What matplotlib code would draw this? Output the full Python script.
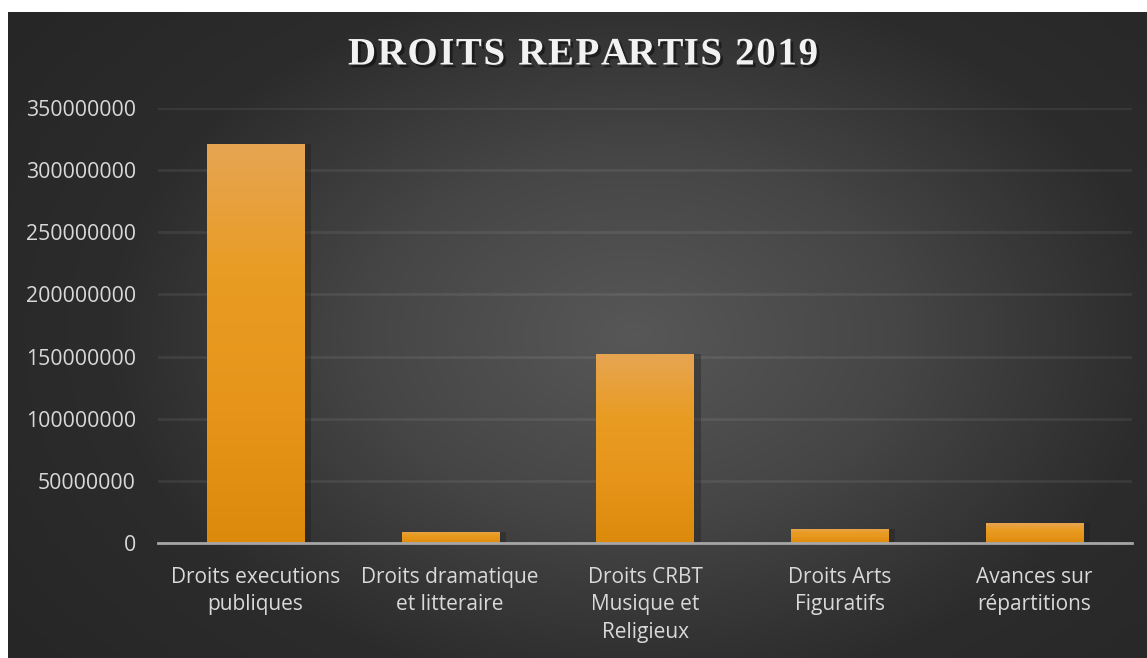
import numpy as np
import matplotlib
matplotlib.use("Agg")
import matplotlib.pyplot as plt
import matplotlib.patheffects as pe
from matplotlib.colors import LinearSegmentedColormap

categories = ["Droits executions\npubliques", "Droits dramatique\net litteraire",
              "Droits CRBT\nMusique et\nReligieux", "Droits Arts\nFiguratifs",
              "Avances sur\nrépartitions"]
values = [321000000, 9000000, 152000000, 11500000, 16000000]
yticks = [0, 50000000, 100000000, 150000000, 200000000, 250000000, 300000000, 350000000]
title = "DROITS REPARTIS 2019"

W, H = 1147, 658
fig = plt.figure(figsize=(W / 100, H / 100), dpi=100, facecolor="white")

# background radial gradient
bg = fig.add_axes([8 / W, 0, 1 - 8 / W, 1 - 12 / H], zorder=-10)
bg.set_axis_off()
yy, xx = np.mgrid[0:1:400j, 0:1:700j]
r = np.sqrt(((xx - 0.55) / 0.75) ** 2 + ((yy - 0.5) / 0.9) ** 2)
r = np.clip(r / r.max(), 0, 1)
cmap_bg = LinearSegmentedColormap.from_list("bg", ["#575757", "#464646", "#2c2c2c", "#262626"])
bg.imshow(r, cmap=cmap_bg, aspect="auto", extent=[0, 1, 0, 1], interpolation="bilinear")
bg.set_xlim(0, 1)
bg.set_ylim(0, 1)

ax = fig.add_axes([158 / W, 1 - 543 / H, (1132 - 158) / W, (543 - 108) / H])
ax.patch.set_alpha(0)
x = np.arange(len(categories))

# shadows
ax.bar(x + 0.035, values, width=0.5, bottom=0, color="#1c1c1c", alpha=0.35, zorder=1)
bars = ax.bar(x, values, width=0.5, color="#e99a1e", zorder=2)
grad = np.linspace(0, 1, 256).reshape(-1, 1)
cmap_bar = LinearSegmentedColormap.from_list("bar", ["#e6a552", "#e99c22", "#e6951a", "#db8a0c"])
for b in bars:
    x0, y0 = b.get_x(), b.get_y()
    w, h = b.get_width(), b.get_height()
    im = ax.imshow(grad, cmap=cmap_bar, aspect="auto", extent=[x0, x0 + w, y0, y0 + h],
                   origin="upper", zorder=3)
    im.set_clip_path(b)

ax.set_xlim(-0.5, len(categories) - 0.5)
ax.set_ylim(0, 350000000)
ax.set_yticks(yticks)
ax.set_yticklabels([str(v) for v in yticks])
ax.set_xticks(x)
ax.set_xticklabels(categories, linespacing=1.42)
ax.yaxis.grid(True, color="white", alpha=0.07, linewidth=2, zorder=0)
ax.set_axisbelow(True)
for s in ["top", "right", "left"]:
    ax.spines[s].set_visible(False)
ax.spines["bottom"].set_color("#a6a6a6")
ax.spines["bottom"].set_linewidth(2)
ax.spines["bottom"].set_zorder(5)
ax.tick_params(axis="y", length=0, pad=16, labelsize=15.3, labelcolor="#d9d9d9")
ax.tick_params(axis="x", length=0, pad=17, labelsize=15, labelcolor="#d9d9d9")
for lab in ax.get_xticklabels() + ax.get_yticklabels():
    lab.set_fontfamily("Open Sans")

# title with letter spacing
tkw = dict(fontsize=28, fontweight="bold", family="Liberation Serif")
renderer = fig.canvas.get_renderer()
def text_width(s):
    t = fig.text(0, 0, s, **tkw)
    wpx = t.get_window_extent(renderer).width
    t.remove()
    return wpx
full_w = text_width(title)
target_w = 470.0
spacing = (target_w - full_w) / (len(title) - 1)
left_px = 348.0
ty = 1 - 55 / H
for i, ch in enumerate(title):
    if ch == " ":
        continue
    px = left_px + (text_width(title[:i]) if i > 0 else 0) + i * spacing
    fig.text(px / W, ty, ch, ha="left", va="center", color="#f2f2f2",
             path_effects=[pe.withSimplePatchShadow(offset=(2, -2), shadow_rgbFace="black", alpha=0.45)],
             **tkw)

fig.savefig("out.png", dpi=100, facecolor="white")
